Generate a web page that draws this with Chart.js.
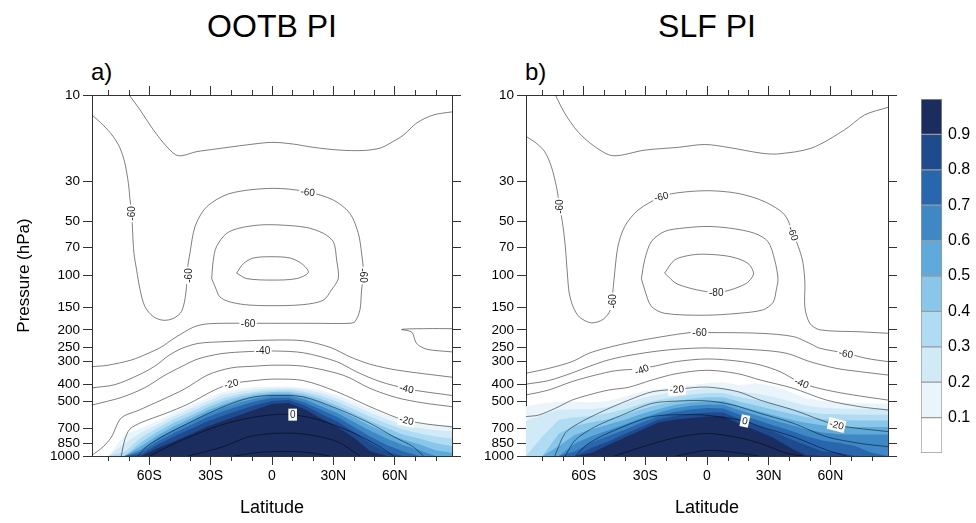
<!DOCTYPE html>
<html>
<head>
<meta charset="utf-8">
<script src="https://cdn.jsdelivr.net/npm/chart.js@4.4.0/dist/chart.umd.min.js"></script>
<style>
  body { margin: 0; background: #fff; width: 976px; height: 523px; overflow: hidden; position: relative;
         font-family: "Liberation Sans", Arial, Helvetica, sans-serif; color: #000; }
  .ttl { position: absolute; top: 10px; width: 360px; text-align: center; font-size: 32px; line-height: 1; }
  .tag { position: absolute; top: 60px; font-size: 24px; line-height: 1; }
  canvas { position: absolute; top: 0; }
</style>
</head>
<body>
<div class="ttl" style="left:92px">OOTB PI</div>
<div class="ttl" style="left:527px">SLF PI</div>
<div class="tag" style="left:91px">a)</div>
<div class="tag" style="left:525px">b)</div>
<canvas id="panelA" width="470" height="523" style="left:0"></canvas>
<canvas id="panelB" width="430" height="523" style="left:470px"></canvas>
<canvas id="cbar" width="76" height="523" style="left:900px"></canvas>

<script>
// --- axes ---
const pressureTicks = [10, 30, 50, 70, 100, 150, 200, 250, 300, 400, 500, 700, 850, 1000];
const latTicks = [-60, -30, 0, 30, 60];
const latTickLabels = ['60S', '30S', '0', '30N', '60N'];
const latMinorTicks = [-80, -70, -50, -40, -20, -10, 10, 20, 40, 50, 70, 80];

// --- colour bins (0-0.1 ... 0.9-1) ---
const binBounds = [0, 0.1, 0.2, 0.3, 0.4, 0.5, 0.6, 0.7, 0.8, 0.9, 1.0];
const binColors = ['#ffffff', '#e9f5fb', '#d0eaf7', '#afdcf2', '#88c7ea', '#5eaadb',
                   '#3d88c5', '#2866ae', '#1e4a8e', '#1b2d5f'];
const cbarTicks = [0.1, 0.2, 0.3, 0.4, 0.5, 0.6, 0.7, 0.8, 0.9];

// --- shading: upper edge (hPa) of each level 0.1..0.9, per latitude ---
const latGrid = [-88, -80, -72, -64, -56, -48, -40, -32, -24, -16, -8, 0, 8, 16, 24, 32, 40, 48, 56, 64, 72, 80, 88];

const shadeTopA = [
  [1000, 1000, 760, 700, 640, 575, 525, 480, 440, 425, 415, 412, 412, 420, 432, 460, 500, 545, 593, 633, 659, 670, 675],
  [1000, 1000, 850, 740, 670, 600, 548, 500, 458, 440, 427, 422, 420, 430, 448, 480, 525, 575, 625, 670, 700, 720, 730],
  [1000, 1000, 950, 790, 700, 625, 572, 520, 478, 455, 440, 432, 430, 442, 465, 500, 550, 605, 660, 710, 750, 780, 800],
  [1000, 1000, 1000, 840, 735, 655, 598, 542, 498, 470, 452, 442, 440, 455, 483, 525, 580, 640, 700, 760, 800, 850, 880],
  [1000, 1000, 1000, 880, 770, 685, 622, 563, 518, 486, 465, 452, 450, 470, 505, 550, 610, 680, 745, 810, 860, 930, 960],
  [1000, 1000, 1000, 920, 800, 715, 648, 587, 540, 505, 480, 463, 462, 485, 530, 578, 648, 725, 800, 870, 930, 1000, 1000],
  [1000, 1000, 1000, 950, 830, 745, 675, 612, 565, 528, 498, 477, 475, 505, 555, 608, 690, 780, 870, 940, 1000, 1000, 1000],
  [1000, 1000, 1000, 980, 865, 780, 710, 645, 598, 558, 522, 495, 490, 525, 585, 645, 735, 850, 950, 1000, 1000, 1000, 1000],
  [1000, 1000, 1000, 1000, 905, 830, 760, 690, 640, 595, 552, 515, 508, 550, 620, 690, 790, 940, 1000, 1000, 1000, 1000, 1000]
];

const shadeTopB = [
  [530, 510, 500, 500, 505, 495, 470, 440, 425, 415, 405, 395, 390, 405, 395, 410, 440, 478, 495, 505, 510, 512, 512],
  [640, 590, 555, 550, 550, 535, 510, 478, 458, 443, 432, 422, 420, 440, 450, 470, 498, 525, 540, 545, 548, 548, 548],
  [1000, 780, 630, 610, 600, 580, 550, 515, 490, 472, 458, 448, 447, 472, 490, 512, 542, 568, 585, 588, 590, 590, 590],
  [1000, 1000, 750, 680, 650, 625, 590, 550, 520, 498, 482, 472, 472, 500, 525, 552, 582, 608, 625, 632, 635, 635, 635],
  [1000, 1000, 880, 760, 710, 670, 630, 585, 550, 522, 505, 495, 496, 528, 560, 592, 625, 655, 675, 688, 690, 690, 690],
  [1000, 1000, 1000, 850, 775, 720, 670, 620, 578, 545, 527, 518, 520, 558, 595, 632, 670, 710, 740, 758, 760, 760, 760],
  [1000, 1000, 1000, 940, 840, 775, 715, 655, 605, 570, 552, 542, 545, 590, 630, 675, 720, 775, 820, 845, 880, 960, 1000],
  [1000, 1000, 1000, 1000, 900, 830, 755, 690, 630, 600, 585, 575, 575, 625, 675, 730, 800, 870, 940, 960, 1000, 1000, 1000],
  [1000, 1000, 1000, 1000, 960, 870, 790, 720, 655, 630, 615, 605, 605, 665, 722, 790, 895, 990, 1000, 1000, 1000, 1000, 1000]
];

// --- temperature contours [lat, hPa] ---
// OOTB PI
const aTop = [[-69.8,10],[-64.5,12.1],[-58,15.6],[-51.5,19.3],[-45.8,21.7],[-36.8,20.6],[-28.7,20],[-12.4,18.9],[0,18.3],[10.4,18.7],[20.2,19.5],[33.2,20.2],[44.7,20.3],[52.8,19.7],[57.7,18.5],[64.2,16.7],[70.7,14.3],[78.9,12.9],[88,12.4]];
const aM60 = [[-88,12.9],[-82.5,14.7],[-77.6,17],[-74.3,19.7],[-71.9,23.9],[-70.2,30.9],[-69.4,38.2],[-68.6,45.3],[-68.1,58.4],[-67.5,75.3],[-66.2,93],[-64.5,120],[-62.1,149],[-58,169],[-53.2,177],[-48.3,173],[-44.2,158],[-42.1,125],[-41.4,93],[-40.1,75],[-37.6,53.5],[-31.9,41.6],[-20.5,35.1],[0,32.9],[16.9,34.3],[30,38.2],[38.1,45.3],[42.2,58.4],[43.8,75.3],[44.7,97],[43.8,120],[43,155],[40.6,180],[38.1,184],[20,184],[-1,184],[-24.8,184],[-32.9,186],[-37.8,192],[-42.7,205],[-49.2,228],[-54.1,249],[-60.6,270],[-68.8,294],[-80.2,314],[-88,320]];
const aM60R = [[88,197],[75.6,197],[63.4,199],[68.3,206],[70.7,238],[75.6,256],[88,265]];
const aM70 = [[-29.5,104],[-28.7,82],[-27.1,69],[-22.2,58.4],[-15.6,54.5],[-5.9,52.5],[3.9,52.5],[16.9,54.2],[25.1,58.4],[30,65],[31.6,82],[32.4,104],[29.1,120],[25.1,137],[15.3,145],[-1,147],[-13.4,145],[-21.5,139],[-25.6,131],[-27.2,120],[-29.5,104]];
const aM80 = [[-17.3,97],[-14,86],[-9.1,80],[0,78.7],[8.8,80],[14.5,86],[17.8,96],[12.1,104],[0,106],[-12.4,104],[-17.3,97]];
const aM50 = [[-88,419],[-77,403],[-65.5,357],[-57.3,318],[-50.8,279],[-44.3,254],[-36.2,238],[-24.8,233],[0,228],[15.3,230],[28.4,250],[38.1,282],[47.9,310],[60.9,334],[88,366]];
const aM40 = [[-88,522],[-73.7,474],[-62.3,419],[-52.4,357],[-44.3,320],[-36.2,290],[-24.8,271],[-11.7,264],[0.9,262],[15.3,268],[31.6,300],[41.4,342],[52.8,387],[65.8,424],[72.4,437],[88,462]];
const aM30 = [[-88,990],[-82.6,890],[-78.5,785],[-73.7,615],[-65.5,560],[-54.1,490],[-42.7,425],[-31.3,355],[-19.9,325],[-8.5,318],[0.9,314],[15.3,318],[34.9,357],[47.9,422],[60.9,475],[73.9,508],[88,533]];
const aM20 = [[-73.7,1000],[-72,815],[-69.6,712],[-63.9,652],[-52.4,583],[-41.1,516],[-28.1,431],[-19.9,398],[-8.5,382],[0.9,375],[15.3,382],[31.6,440],[47.9,533],[60.9,613],[65.8,635],[75.6,665],[88,690]];
const aM10 = [[-65.5,1000],[-61.4,890],[-54.1,785],[-41.1,659],[-28.1,560],[-16.6,497],[-8.5,470],[0.9,462],[15.3,470],[31.6,545],[47.9,659],[59.3,780],[69.1,890],[74,1000]];
const aZ0 = [[-59.8,1000],[-52.4,906],[-41.1,790],[-24.8,673],[-11.7,618],[0.9,590],[10.1,590],[23.5,633],[39.8,745],[52.8,890],[59.3,1000]];
const aP10 = [[-41.1,1000],[-24.8,895],[-11.7,785],[0.9,750],[15.3,755],[31.6,830],[43,1000]];
const aP20 = [[-18.2,1000],[-8.5,960],[0.9,945],[15.3,950],[28.4,1000]];

// SLF PI
const bTop = [[-73.7,10],[-69.2,12.6],[-62.7,16],[-54.6,19.3],[-45.7,21.7],[-30.3,20.2],[-14.1,19.5],[-1.1,18.8],[10.2,19.5],[26.4,21],[34.5,21.2],[50.7,19.7],[66.9,15.6],[76.6,12.9],[88,11.7]];
const bM60 = [[-87.8,17],[-83,18.5],[-78.9,20.6],[-75.7,24.9],[-73.2,32.2],[-71.6,41.5],[-70,53.5],[-68.9,69],[-67.9,97],[-67,125],[-65,150],[-62,170],[-56.2,183],[-50.5,175],[-47,155],[-45.7,120],[-44.9,97],[-43.3,69],[-40,53.5],[-33.5,43.4],[-22.2,36.6],[-14.1,34.8],[0.5,33.9],[15.1,35.1],[28,39],[37.8,46.2],[41.8,58.5],[45,72.3],[46.7,85.7],[47.6,110],[47.6,150],[50,184],[54.9,200],[74.3,205],[88,209]];
const bM60H = [[-88,348],[-77,327],[-65.6,300],[-57.5,270],[-49.4,253],[-39.7,238],[-26.7,223],[-8,207],[0,207],[25.8,209],[42,218],[50,238],[54.9,253],[67.9,270],[77.6,288],[88,300]];
const bM70 = [[-31.9,104],[-30.3,82],[-27.1,65],[-20.6,57],[-10.9,54.5],[0.5,53.5],[11.8,54.8],[23.2,58.4],[29.7,65],[32.9,82],[34.5,104],[33.7,120],[32.1,141],[27.2,155],[15.2,162],[-1,166],[-20.6,162],[-27.1,148],[-30.3,120],[-31.9,104]];
const bM80 = [[-20.6,97],[-15.7,82],[-7.6,77],[0.5,76.3],[11.8,78.8],[19.9,85.7],[22.6,98],[18.3,112],[4.5,124],[-14.1,112],[-20.6,97]];
const bM50 = [[-88,400],[-77,382],[-66,348],[-57,318],[-49,296],[-40,280],[-27,265],[-15,256],[0,252],[25.8,259],[38.8,270],[50,300],[62.9,327],[74.3,341],[88,356]];
const bM40 = [[-88,459],[-77,431],[-65.6,387],[-54.2,356],[-44.5,337],[-34.8,330],[-26.7,320],[-15,300],[0,290],[15,298],[25.8,313],[35.5,341],[46,395],[58.1,431],[71.1,459],[88,490]];
const bM30 = [[-88,605],[-81.8,593],[-73.7,544],[-65.6,490],[-57.5,459],[-47.8,431],[-38,416],[-26.7,379],[-15,350],[0,335],[15,350],[25.8,379],[42,422],[58.1,490],[74.3,533],[88,556]];
const bM20 = [[-74,1000],[-69,748],[-62.4,659],[-49.4,556],[-38,490],[-26.7,441],[-14.7,427],[0,415],[15,440],[25.8,490],[42,556],[63,673],[88,733]];
const bM10 = [[-68.9,1000],[-64,815],[-54.3,688],[-41.3,593],[-26.7,511],[-12,495],[0,495],[12,520],[25.8,580],[42,659],[58.1,782],[74.3,851],[88,888]];
const bZ0 = [[-64,1000],[-57.5,851],[-44.6,718],[-26.7,605],[-10,590],[0,595],[18.4,640],[25.8,687],[42,782],[58.1,927],[67.9,1000]];
const bP10 = [[-45,1000],[-30,880],[-15,790],[0,750],[15,790],[25.8,851],[38.8,966],[46.8,1000]];
const bP20 = [[-15,1000],[0,930],[15,960],[25,1000]];

// contour labels [lat, hPa, text, angle]
const labelsA = [[-68.6,45.3,'-60',-90],[17.5,34.5,'-60',6],[-40.9,100,'-60',-90],[44.7,100,'-60',90],
  [-11.7,184,'-60',0],[-4.4,262,'-40',0],[-19.9,398,'-20',-14],[10.1,590,'0',0],[65.8,424,'-40',12],[65.8,635,'-20',12]];
const labelsB = [[-71.6,41.5,'-60',-90],[-22.2,36.6,'-60',-14],[41.8,58.5,'-60',70],[-45.7,139,'-60',-90],
  [4.5,124,'-80',0],[-3.6,207,'-60',0],[67.5,271,'-60',10],[-31.7,333,'-40',-22],[46,395,'-40',22],
  [-14.7,427,'-20',-4],[18.4,640,'0',12],[63,673,'-20',14]];

const AXIS = '#333';
const LINE = 'rgba(0,0,0,0.5)';
Chart.defaults.font.family = '"Liberation Sans", Arial, Helvetica, sans-serif';
Chart.defaults.color = '#000';

function lineSet(pts) {
  return {
    data: pts.map(([x, y]) => ({ x, y })),
    borderColor: LINE, borderWidth: 1, pointRadius: 0,
    tension: 0.3, fill: false, order: 0
  };
}

function shadeSet(row, k) {
  return {
    data: latGrid.map((x, i) => ({ x, y: row[i] })),
    borderColor: 'rgba(0,0,0,0)', borderWidth: 0, pointRadius: 0,
    backgroundColor: binColors[k + 1], fill: { value: 1000 },
    tension: 0, order: 20 - k
  };
}

function labelPlugin(items) {
  return {
    id: 'contourLabels',
    afterDatasetsDraw(chart) {
      const { ctx, scales: { x, y } } = chart;
      ctx.save();
      ctx.font = '10px "Liberation Sans", Arial, sans-serif';
      ctx.textAlign = 'center';
      ctx.textBaseline = 'middle';
      items.forEach(([lat, p, text, ang]) => {
        ctx.save();
        ctx.translate(x.getPixelForValue(lat), y.getPixelForValue(p));
        ctx.rotate(ang * Math.PI / 180);
        const w = ctx.measureText(text).width + 3;
        ctx.fillStyle = '#fff';
        ctx.fillRect(-w / 2, -6, w, 12);
        ctx.fillStyle = '#222';
        ctx.fillText(text, 0, 0.5);
        ctx.restore();
      });
      ctx.restore();
    }
  };
}

const minorTicks = {
  id: 'minorTicks',
  afterDraw(chart) {
    const { ctx, chartArea: a, scales: { x } } = chart;
    ctx.save();
    ctx.strokeStyle = AXIS;
    ctx.lineWidth = 1;
    ctx.beginPath();
    latMinorTicks.forEach(v => {
      const px = Math.round(x.getPixelForValue(v)) + 0.5;
      ctx.moveTo(px, a.bottom); ctx.lineTo(px, a.bottom + 5);
      ctx.moveTo(px, a.top); ctx.lineTo(px, a.top - 5);
    });
    ctx.stroke();
    ctx.restore();
  }
};

function panelScales(yWidth, withTitle) {
  const grid = { drawOnChartArea: false, drawTicks: true, tickLength: 9, color: AXIS, tickColor: AXIS };
  const border = { display: true, color: AXIS, width: 1 };
  const setLat = s => { s.ticks = latTicks.map(v => ({ value: v })); };
  const setP = s => { s.ticks = pressureTicks.map(v => ({ value: v })); };
  return {
    x: {
      type: 'linear', position: 'bottom', min: -88, max: 88,
      afterBuildTicks: setLat, afterFit: s => { s.height = 67; },
      grid, border,
      ticks: { autoSkip: false, maxRotation: 0, padding: 3, font: { size: 14 },
               callback: v => latTickLabels[latTicks.indexOf(v)] },
      title: { display: true, text: 'Latitude', font: { size: 18 }, padding: { top: 0, bottom: 4 } }
    },
    xTop: {
      axis: 'x', type: 'linear', position: 'top', min: -88, max: 88,
      afterBuildTicks: setLat, afterFit: s => { s.height = 10; },
      grid, border, ticks: { display: false }
    },
    y: {
      type: 'logarithmic', position: 'left', reverse: true, min: 10, max: 1000,
      afterBuildTicks: setP, afterFit: s => { s.width = yWidth; },
      grid, border,
      ticks: { autoSkip: false, padding: 3, font: { size: 13.5 }, callback: v => String(v) },
      title: withTitle
        ? { display: true, text: 'Pressure (hPa)', font: { size: 17 }, padding: { top: 14, bottom: 0 } }
        : { display: false }
    },
    yRight: {
      axis: 'y', type: 'logarithmic', position: 'right', reverse: true, min: 10, max: 1000,
      afterBuildTicks: setP, afterFit: s => { s.width = 10; },
      grid, border, ticks: { display: false }
    }
  };
}

function buildPanel(id, shadeRows, lines, labels, yWidth, withTitle, padRight) {
  const datasets = shadeRows.map((row, k) => shadeSet(row, k)).concat(lines.map(lineSet));
  new Chart(document.getElementById(id), {
    type: 'line',
    data: { datasets },
    options: {
      responsive: false,
      animation: false,
      devicePixelRatio: 1,
      layout: { padding: { top: 85, right: padRight, bottom: 0, left: 0 } },
      plugins: { legend: { display: false }, tooltip: { enabled: false } },
      scales: panelScales(yWidth, withTitle)
    },
    plugins: [labelPlugin(labels), minorTicks]
  });
}

buildPanel('panelA', shadeTopA,
  [aTop, aM60, aM60R, aM70, aM80, aM50, aM40, aM30, aM20, aM10, aZ0, aP10, aP20],
  labelsA, 92, true, 8);
buildPanel('panelB', shadeTopB,
  [bTop, bM60, bM60H, bM70, bM80, bM50, bM40, bM30, bM20, bM10, bZ0, bP10, bP20],
  labelsB, 56, false, 2);

// colour bar
new Chart(document.getElementById('cbar'), {
  type: 'bar',
  data: {
    labels: [''],
    datasets: binColors.map((c, i) => ({
      data: [[binBounds[i], binBounds[i + 1]]],
      backgroundColor: c, borderColor: '#9a9a9a', borderWidth: 1, borderSkipped: false,
      barPercentage: 1, categoryPercentage: 1, grouped: false
    }))
  },
  options: {
    responsive: false,
    animation: false,
    devicePixelRatio: 1,
    layout: { padding: { top: 99, bottom: 70, left: 21, right: 0 } },
    plugins: { legend: { display: false }, tooltip: { enabled: false } },
    scales: {
      x: { display: false },
      y: {
        position: 'right', min: 0, max: 1,
        afterBuildTicks: s => { s.ticks = cbarTicks.map(v => ({ value: v })); },
        afterFit: s => { s.width = 34; },
        grid: { display: false, drawTicks: false },
        border: { display: false },
        ticks: { padding: 6, font: { size: 16 }, callback: v => v.toFixed(1) }
      }
    }
  }
});
</script>
</body>
</html>
